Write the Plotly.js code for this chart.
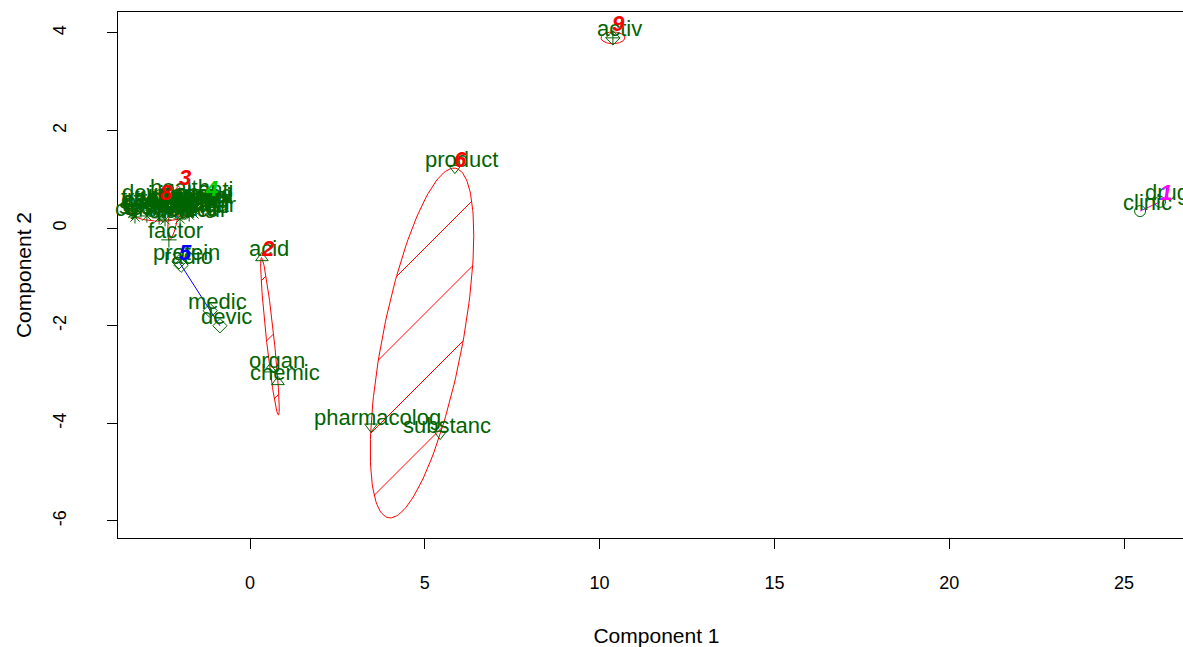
<!DOCTYPE html>
<html><head><meta charset="utf-8">
<script src="https://cdn.plot.ly/plotly-3.0.1.min.js"></script>
<style>html,body{margin:0;padding:0;overflow:hidden;background:#fff}</style>
</head><body><div id="chart" style="width:1195px;height:647px"></div>
<script>
// ---- data ----
const terms   = ["activ","clinic","drug","product","pharmacolog","substanc","acid","organ","chemic",
                 "protein","radio","medic","devic","factor","health","includ",
                 "use","cell","test","effect","patient","system","develop","treatment","compound",
                 "method","studi","inform","research","diseas","compani","molecul","design",
                 "nuclear","therapi","biolog","anti","gene"];
const comp1   = [10.38,25.46,26.03,5.86,3.46,5.44,0.34,0.57,0.80,
                 -2.03,-1.97,-1.14,-0.86,-2.32,-2.20,-2.00,
                 -3.35,-3.35,-3.29,-3.12,-2.86,-2.95,-2.77,-2.55,-2.60,
                 -2.35,-2.43,-2.26,-2.12,-1.92,-1.86,-2.00,-1.74,
                 -1.63,-1.69,-1.63,-1.20,-1.40];
const comp2   = [3.90,0.35,0.54,1.23,-4.07,-4.22,-0.61,-2.89,-3.15,
                 -0.69,-0.76,-1.69,-2.00,-0.24,0.64,0.52,
                 0.31,0.40,0.23,0.41,0.37,0.25,0.54,0.45,0.21,
                 0.35,0.17,0.52,0.43,0.31,0.47,0.19,0.27,
                 0.31,0.48,0.39,0.60,0.52];
const cluster = [9,1,1,6,6,6,2,2,2,
                 5,5,5,5,3,3,3,
                 8,8,8,8,8,8,8,8,8,
                 8,8,8,8,8,8,8,8,
                 4,4,4,4,4];
const clusterIds = [1,2,3,4,5,6,8,9];
const clusterColor = {1:"#ff00ff",2:"#ff0000",3:"#ff0000",4:"#00cd00",5:"#0000ff",6:"#ff0000",8:"#ff0000",9:"#ff0000"};
const clusterSymbol = {1:"circle-open",2:"triangle-up-open",3:"cross-thin-open",4:"x-thin-open",
                       5:"diamond-open",6:"triangle-down-open",8:"asterisk-open",9:"diamond-cross-open"};
const xTicks = [0,5,10,15,20,25];
const yTicks = [-6,-4,-2,0,2,4];
const xTitle = "Component 1";
const yTitle = "Component 2";

// ---- layout geometry ----
const W = 1195, H = 647;
const M = {l:118, r:0, t:12, b:109};
const xr = [-3.776, 27.03], yr = [-6.35, 4.43];
const PW = W - M.l - M.r, PH = H - M.t - M.b;
const sx = PW/(xr[1]-xr[0]), sy = PH/(yr[1]-yr[0]);
const toPx = (x,y)=>[(x-xr[0])*sx, (yr[1]-y)*sy];
const toData = (px,py)=>[xr[0]+px/sx, yr[1]-py/sy];

const green = "#006400";
const FONT = "Liberation Sans, Arial, sans-serif";
const traces = [];
const clusterLabels = [];

function inv3(m){
  const [a,b,c,d,e,f,g,h,i] = m;
  const A=e*i-f*h, B=-(d*i-f*g), C=d*h-e*g;
  const det = a*A+b*B+c*C;
  return [A/det,-(b*i-c*h)/det,(b*f-c*e)/det,
          B/det,(a*i-c*g)/det,-(a*f-c*d)/det,
          C/det,-(a*h-b*g)/det,(a*e-b*d)/det];
}

// minimum-area ellipse containing all points of a cluster (Khachiyan)
function ellipse(ids){
  const n = ids.length;
  const xs = ids.map(i=>comp1[i]), ys = ids.map(i=>comp2[i]);
  const N = 160, ex = [], ey = [];
  if(n===1){
    for(let k=0;k<=N;k++){const t=2*Math.PI*k/N; ex.push(xs[0]+0.34*Math.cos(t)); ey.push(ys[0]+0.12*Math.sin(t));}
    return {ex,ey,area:true};
  }
  const mx = xs.reduce((s,v)=>s+v,0)/n, my = ys.reduce((s,v)=>s+v,0)/n;
  let va=0,vb=0,vc=0;
  for(let k=0;k<n;k++){const dx=xs[k]-mx, dy=ys[k]-my; va+=dx*dx; vb+=dx*dy; vc+=dy*dy;}
  const tr=(va+vc)/2, dd=Math.sqrt(((va-vc)/2)**2+vb*vb), l1=tr+dd, l2=tr-dd;
  if(n===2 || l2/l1 < 2e-3){
    let vx = vb, vy = l1-va; if(Math.abs(vx)+Math.abs(vy)<1e-12){vx=1;vy=0;}
    const nn=Math.hypot(vx,vy); vx/=nn; vy/=nn;
    const pr = xs.map((x,k)=>(x-mx)*vx+(ys[k]-my)*vy);
    const lo=Math.min(...pr), hi=Math.max(...pr);
    return {ex:[mx+lo*vx, mx+hi*vx], ey:[my+lo*vy, my+hi*vy], area:false};
  }
  let u = new Array(n).fill(1/n);
  for(let it=0; it<50000; it++){
    const X=[0,0,0,0,0,0,0,0,0];
    for(let k=0;k<n;k++){const q=[xs[k],ys[k],1];
      for(let r=0;r<3;r++) for(let s=0;s<3;s++) X[r*3+s]+=u[k]*q[r]*q[s];}
    const Xi = inv3(X);
    let best=-1, jm=0;
    for(let k=0;k<n;k++){const q=[xs[k],ys[k],1]; let m=0;
      for(let r=0;r<3;r++) for(let s=0;s<3;s++) m+=q[r]*Xi[r*3+s]*q[s];
      if(m>best){best=m;jm=k;}}
    const step = (best-3)/(3*(best-1));
    if(step<1e-11) break;
    u = u.map(v=>v*(1-step)); u[jm]+=step;
  }
  let cx=0, cy=0; for(let k=0;k<n;k++){cx+=u[k]*xs[k]; cy+=u[k]*ys[k];}
  let a=0,b=0,c=0;
  for(let k=0;k<n;k++){const dx=xs[k]-cx, dy=ys[k]-cy; a+=u[k]*dx*dx; b+=u[k]*dx*dy; c+=u[k]*dy*dy;}
  a*=2; b*=2; c*=2;
  const l11=Math.sqrt(a), l21=b/l11, l22=Math.sqrt(Math.max(0,c-l21*l21));
  for(let k=0;k<=N;k++){const t=2*Math.PI*k/N, p=Math.cos(t), q=Math.sin(t);
    ex.push(cx+l11*p); ey.push(cy+l21*p+l22*q);}
  return {ex,ey,area:true};
}

// diagonal shading lines clipped to the ellipse
function hatch(ex,ey){
  const P = ex.map((x,i)=>toPx(x,ey[i]));
  const sums = P.map(p=>p[0]+p[1]);
  const lo = Math.min(...sums), hi = Math.max(...sums);
  const step = 65.5, phase = 19;
  const hx=[], hy=[];
  for(let k=Math.ceil((lo-phase)/step); phase+k*step<hi; k++){
    const cc = phase+k*step, pts=[];
    for(let i=0;i<P.length-1;i++){
      const s1=sums[i]-cc, s2=sums[i+1]-cc;
      if((s1<0&&s2>=0)||(s1>=0&&s2<0)){const t=s1/(s1-s2); pts.push([P[i][0]+t*(P[i+1][0]-P[i][0]), P[i][1]+t*(P[i+1][1]-P[i][1])]);}
    }
    if(pts.length>=2){
      pts.sort((p,q)=>p[0]-q[0]);
      const d1=toData(pts[0][0],pts[0][1]), d2=toData(pts[pts.length-1][0],pts[pts.length-1][1]);
      hx.push(d1[0],d2[0],null); hy.push(d1[1],d2[1],null);
    }
  }
  return {hx,hy};
}

clusterIds.forEach(cl=>{
  const ids = cluster.map((c,i)=>c===cl?i:-1).filter(i=>i>=0);
  const e = ellipse(ids);
  const col = clusterColor[cl];
  traces.push({x:e.ex,y:e.ey,mode:"lines",line:{color:col,width:1},hoverinfo:"skip",showlegend:false});
  if(e.area && ids.length>=3){
    const h = hatch(e.ex,e.ey);
    traces.push({x:h.hx,y:h.hy,mode:"lines",line:{color:col,width:1},connectgaps:false,hoverinfo:"skip",showlegend:false});
  }
  let top=0; e.ey.forEach((y,i)=>{if(y>e.ey[top]) top=i;});
  clusterLabels.push({x:e.ex[top],y:e.ey[top],text:String(cl),showarrow:false,xshift:6,yshift:9,
    font:{family:FONT,size:22,color:col,weight:"bold",style:"italic"}});
});

clusterIds.forEach(cl=>{
  const ids = cluster.map((c,i)=>c===cl?i:-1).filter(i=>i>=0);
  traces.push({x:ids.map(i=>comp1[i]),y:ids.map(i=>comp2[i]),mode:"markers",
    marker:{symbol:clusterSymbol[cl],size:11,color:green,line:{width:1,color:green}},
    hoverinfo:"text",text:ids.map(i=>terms[i]),showlegend:false});
});

const pointLabels = terms.map((t,i)=>({x:comp1[i],y:comp2[i],text:t,showarrow:false,xshift:7,yshift:9,
  font:{family:FONT,size:22,color:green}}));

const layout = {
  width:W, height:H, margin:M, paper_bgcolor:"#fff", plot_bgcolor:"#fff",
  showlegend:false,
  xaxis:{range:xr, tickvals:xTicks, ticktext:xTicks.map(String), ticks:"outside", ticklen:10, tickwidth:1, tickcolor:"#000",
    showline:true, linecolor:"#000", linewidth:1, mirror:true, showgrid:false, zeroline:false,
    tickfont:{family:FONT,size:18,color:"#000"}, ticklabelstandoff:18,
    title:{text:xTitle, font:{family:FONT,size:21,color:"#000"}, standoff:36}},
  yaxis:{range:yr, tickvals:yTicks, ticktext:yTicks.map(String), ticks:"outside", ticklen:10, tickwidth:1, tickcolor:"#000",
    tickangle:-90, showline:true, linecolor:"#000", linewidth:1, mirror:true, showgrid:false, zeroline:false,
    tickfont:{family:FONT,size:18,color:"#000"}, ticklabelstandoff:34,
    title:{text:yTitle, font:{family:FONT,size:21,color:"#000"}, standoff:12}},
  annotations: pointLabels.concat(clusterLabels)
};
Plotly.newPlot("chart", traces, layout, {displayModeBar:false, staticPlot:true});
</script></body></html>
